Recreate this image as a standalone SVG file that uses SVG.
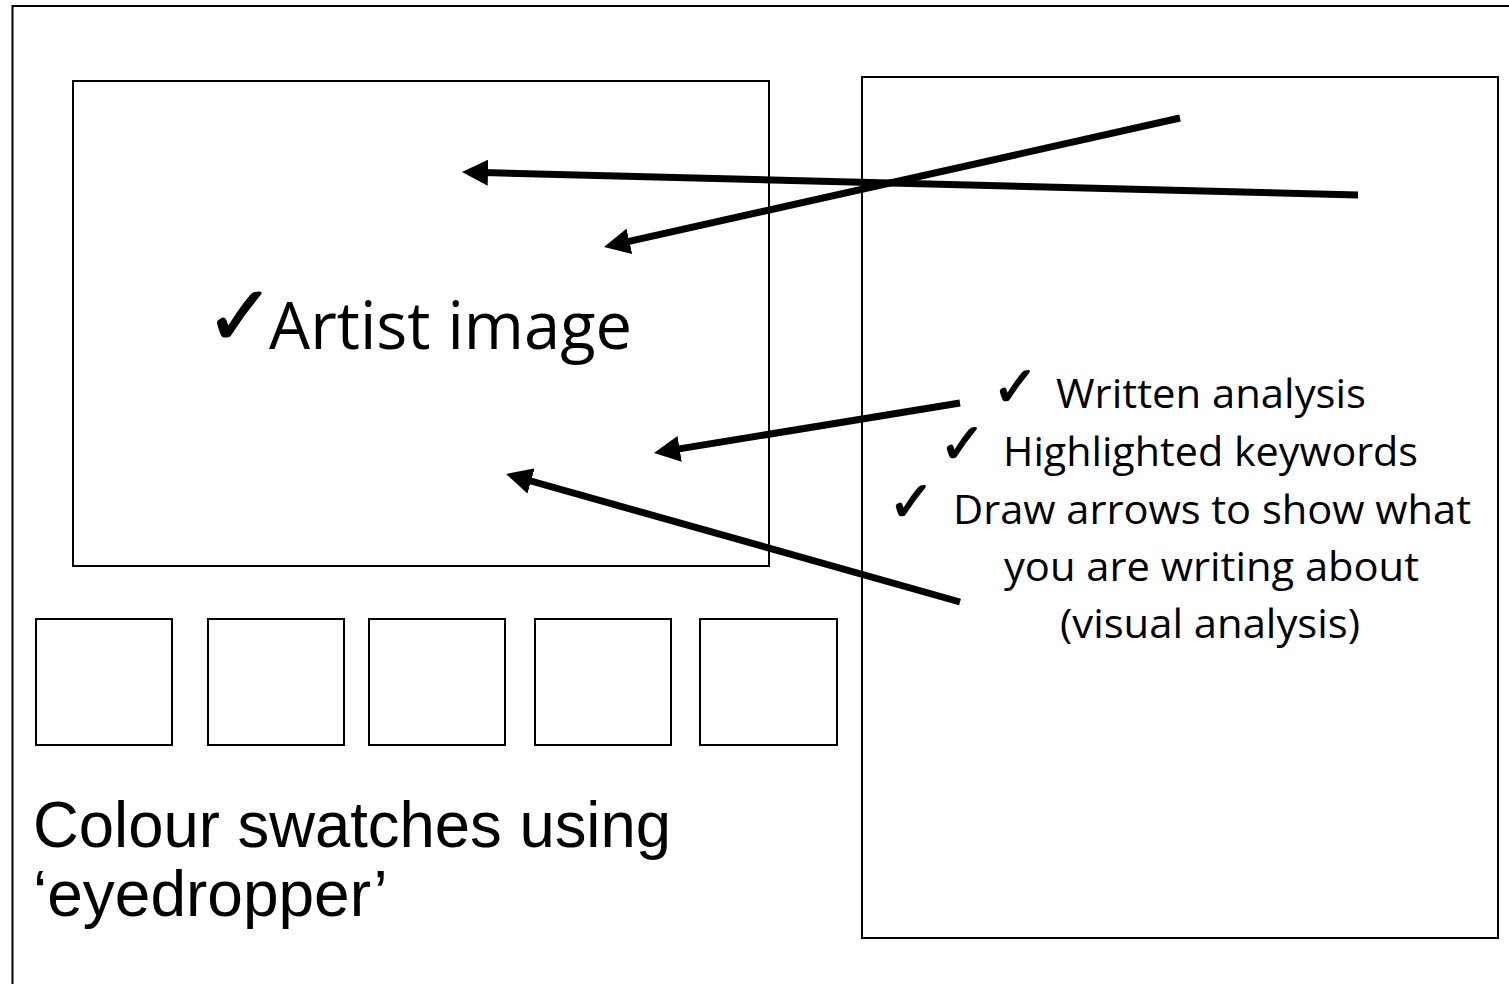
<svg xmlns="http://www.w3.org/2000/svg" width="1509" height="984" viewBox="0 0 1509 984">
<style>
.frame{fill:none;stroke:#000;stroke-width:2}
.body{font-family:"Open Sans","Noto Sans",sans-serif;fill:#000}
.chk{font-family:"DejaVu Sans",sans-serif;fill:#000;stroke:#000;stroke-width:1.2}
.arial{font-family:"Liberation Sans",Arial,sans-serif;fill:#000}
.arrow{stroke:#000;stroke-width:7;fill:none;marker-end:url(#head)}
</style>
<defs>
<marker id="head" markerUnits="userSpaceOnUse" markerWidth="26" markerHeight="26" refX="13" refY="13" orient="auto" viewBox="0 0 26 26">
<path d="M0,0 L26,13 L0,26 z" fill="#000"/>
</marker>
</defs>
<rect width="1509" height="984" fill="#fff"/>
<g id="page"><rect class="frame" x="12.5" y="6" width="1600" height="1100" stroke-width="2.5"/></g>
<g id="artist-image">
<rect class="frame" x="73" y="81" width="696" height="485"/>
<text class="chk" x="205" y="345" font-size="84" stroke-width="2">✓</text>
<text class="body" x="269" y="349" font-size="66" textLength="363" lengthAdjust="spacingAndGlyphs">Artist image</text>
</g>
<g id="swatches">
<rect class="frame" x="36" y="619" width="136" height="126"/>
<rect class="frame" x="208" y="619" width="136" height="126"/>
<rect class="frame" x="369" y="619" width="136" height="126"/>
<rect class="frame" x="535" y="619" width="136" height="126"/>
<rect class="frame" x="700" y="619" width="137" height="126"/>
</g>
<g id="swatch-label">
<text class="arial" x="33" y="847" font-size="64" textLength="638" lengthAdjust="spacingAndGlyphs">Colour swatches using</text>
<text class="arial" x="33" y="916" font-size="64">‘eyedropper’</text>
</g>
<g id="analysis-panel">
<rect class="frame" x="862" y="77" width="636" height="861"/>
<text class="chk" x="992" y="406" font-size="56">✓</text>
<text class="chk" x="939" y="463" font-size="56">✓</text>
<text class="chk" x="888" y="521" font-size="56">✓</text>
<text class="body" x="1056" y="408" font-size="41" textLength="310" lengthAdjust="spacingAndGlyphs">Written analysis</text>
<text class="body" x="1003" y="466" font-size="41" textLength="415" lengthAdjust="spacingAndGlyphs">Highlighted keywords</text>
<text class="body" x="953" y="524" font-size="41" textLength="518" lengthAdjust="spacingAndGlyphs">Draw arrows to show what</text>
<text class="body" x="1004" y="581" font-size="41" textLength="415" lengthAdjust="spacingAndGlyphs">you are writing about</text>
<text class="body" x="1060" y="638" font-size="41" textLength="300" lengthAdjust="spacingAndGlyphs">(visual analysis)</text>
</g>
<g id="connectors">
<line class="arrow" x1="1358" y1="195" x2="475" y2="172.3"/>
<line class="arrow" x1="1180" y1="118" x2="616.7" y2="244.2"/>
<line class="arrow" x1="960" y1="403" x2="666.8" y2="450.9"/>
<line class="arrow" x1="960" y1="602" x2="518.5" y2="477.5"/>
</g>
</svg>
